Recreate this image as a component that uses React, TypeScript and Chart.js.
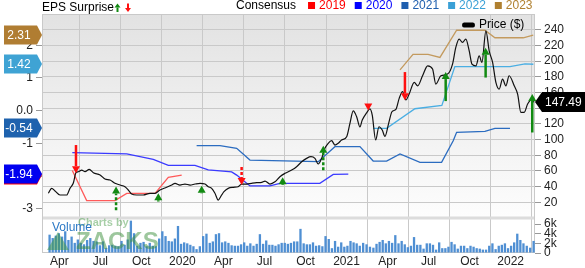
import React, { useEffect, useRef } from "react";
import { Chart, registerables } from "chart.js";

Chart.register(...registerables);

const FONT = "'Liberation Sans', Arial, Helvetica, sans-serif";
const GRID = "#c9c9c9";

// x axis: months since Jan 2019 (3 = Apr 2019)
const X_MIN = 1.735;
const X_MAX = 37.78;
const quarterTicks = [3, 6, 9, 12, 15, 18, 21, 24, 27, 30, 33, 36];
const quarterLabels = ["Apr", "Jul", "Oct", "2020", "Apr", "Jul", "Oct", "2021", "Apr", "Jul", "Oct", "2022"];

const priceTicks = [20, 40, 60, 80, 100, 120, 140, 160, 180, 200, 220, 240];
const epsTicks = [-3, -2, -1, 0, 1, 2];
const volumeTicks = [0, 2, 4, 6];

// price line (months since Jan 2019, $)
const priceMonths = [
  2.2, 2.44, 2.69, 3.05, 3.54, 3.78, 4.02, 4.22, 4.39, 4.64,
  4.88, 5.19, 5.49, 5.98, 6.34, 6.71, 7.07, 7.44, 7.8, 8.04,
  8.29, 8.66, 9.14, 9.63, 10.0, 10.36, 10.85, 11.22, 11.46, 11.82,
  12.19, 12.56, 12.92, 13.29, 13.65, 13.89, 14.14, 14.38, 14.62, 14.87,
  15.04, 15.35, 15.72, 16.08, 16.33, 16.7, 17.06, 17.43, 17.8, 18.04,
  18.4, 18.77, 19.13, 19.5, 19.99, 20.35, 20.72, 21.08, 21.4, 21.69,
  21.93, 22.18, 22.42, 22.66, 22.91, 23.15, 23.39, 23.64, 24.01, 24.25,
  24.49, 24.74, 24.98, 25.15, 25.47, 25.71, 25.88, 26.13, 26.37, 26.61,
  26.81, 27.08, 27.32, 27.61, 27.85, 28.1, 28.34, 28.58, 28.95, 29.2,
  29.56, 29.93, 30.29, 30.53, 30.9, 31.39, 31.75, 31.99, 32.23, 32.48,
  32.72, 32.97, 33.17, 33.46, 33.7, 33.9, 34.19, 34.43, 34.68, 34.92,
  35.16, 35.41, 35.65, 35.89, 36.26, 36.51, 36.75, 36.99, 37.24, 37.48,
  37.72,
];
const prices = [
  31.5, 37.8, 34.4, 29.3, 29.3, 37.8, 44.2, 57.7, 59.0, 61.1,
  59.0, 62.0, 57.7, 54.8, 49.7, 48.4, 44.2, 42.0, 39.9, 35.7,
  30.6, 29.3, 29.3, 31.5, 31.5, 35.7, 39.1, 42.0, 44.2, 42.0,
  43.3, 42.0, 43.3, 44.2, 43.3, 39.9, 37.8, 31.5, 22.9, 29.3,
  33.5, 37.8, 39.1, 39.9, 43.3, 43.3, 44.2, 45.0, 45.5, 47.1,
  43.3, 46.2, 52.6, 56.9, 61.1, 65.4, 71.7, 76.0, 78.1, 76.0,
  68.8, 76.0, 88.8, 95.2, 98.5, 93.0, 95.2, 99.4, 103.6, 120.6,
  136.5, 129.0, 116.0, 124.8, 134.1, 139.0, 131.2, 99.5, 116.3, 112.1,
  104.0, 120.6, 135.4, 138.5, 152.5, 161.0, 150.5, 158.0, 172.9, 168.5,
  181.3, 194.0, 189.8, 170.7, 181.3, 183.4, 196.2, 217.5, 228.0, 223.8,
  228.0, 213.1, 196.2, 194.0, 206.8, 198.3, 238.6, 213.1, 198.3, 172.9,
  164.3, 177.0, 168.5, 181.3, 168.5, 158.0, 134.6, 134.6, 145.2, 150.3,
  147.49,
];

// consensus EPS lines per fiscal year
const c2019Months = [3.95, 5.0, 7.07, 7.93, 10.0, 10.97, 11.95];
const c2019 = [-1.83, -2.75, -2.75, -2.53, -2.53, -2.04, -1.97];
const c2020Months = [3.95, 7.93, 9.87, 10.97, 12.92, 13.89, 15.6, 15.97, 16.94, 18.4, 19.13, 22.05, 23.03, 24.13];
const c2020 = [-1.28, -1.32, -1.49, -1.67, -1.67, -1.81, -1.87, -1.97, -2.3, -2.3, -2.22, -2.22, -1.95, -1.94];
const c2021Months = [13.04, 14.75, 15.97, 16.94, 21.93, 23.15, 24.98, 25.95, 26.93, 27.91, 29.37, 30.95, 31.8, 32.05, 34.12, 34.85, 35.95];
const c2021 = [-1.07, -1.07, -1.15, -1.51, -1.56, -1.1, -1.1, -1.54, -1.54, -1.32, -1.58, -1.58, -0.92, -0.66, -0.63, -0.54, -0.54];
const c2022Months = [25.95, 26.93, 29.0, 30.97, 31.92, 35.95, 37.05, 37.66];
const c2022 = [-0.54, -0.54, 0.06, 0.16, 1.35, 1.35, 1.43, 1.42];
const c2023Months = [27.91, 28.86, 29.96, 30.83, 32.05, 34.12, 34.85, 36.92, 37.65];
const c2023 = [1.25, 1.72, 1.72, 1.63, 2.46, 2.46, 2.23, 2.23, 2.31];

const consensusYears = ["2019", "2020", "2021", "2022", "2023"];
const consensusTextColors = ["#ff0000", "#0000ff", "#1f5fae", "#3aa0d6", "#b08030"];
const consensusLineColors = ["#ff5a5a", "#3a3aff", "#2b6cc0", "#4aaee3", "#c39a5e"];
const consensusBadgeColors = ["#ff0000", "#0000f0", "#1e62ae", "#3fa3d4", "#b07d32"];

// weekly volume (thousands), weeks starting 2019-03-10
const volumeStart = [2019, 2, 10];
const volumes = [
  3.8, 3.1, 3.6, 4.1, 3.4, 4.5, 2.7, 3.4, 2.1, 2.8,
  2.1, 1.8, 2.7, 3.1, 2.5, 2.4, 1.6, 2.4, 1.0, 1.6,
  1.7, 1.5, 1.4, 2.5, 1.7, 2.8, 6.7, 4.1, 1.5, 2.1,
  2.3, 1.4, 2.1, 1.5, 1.4, 3.0, 4.5, 3.5, 2.5, 2.4,
  3.0, 5.6, 1.9, 2.2, 2.0, 1.7, 1.4, 0.8, 1.4, 3.5,
  4.0, 2.1, 2.4, 3.9, 4.1, 2.2, 2.4, 2.1, 1.6, 1.5,
  1.5, 1.8, 2.2, 1.5, 2.0, 1.5, 1.9, 3.9, 1.9, 2.6,
  1.7, 1.7, 1.5, 1.8, 2.1, 2.1, 1.9, 2.1, 2.4, 2.4,
  5.0, 2.0, 1.8, 1.8, 2.2, 1.5, 1.6, 1.4, 3.5, 2.9,
  1.0, 2.5, 1.3, 2.2, 1.3, 1.5, 2.5, 2.2, 2.0, 1.5,
  2.1, 1.8, 1.3, 1.1, 1.9, 2.3, 2.7, 2.0, 2.5, 2.1,
  3.7, 2.0, 2.5, 1.8, 1.2, 1.5, 3.3, 1.7, 1.7, 0.9,
  2.0, 2.0, 1.7, 0.7, 2.2, 1.0, 1.0, 1.3, 2.3, 1.8,
  0.9, 1.5, 1.5, 1.0, 1.5, 1.3, 1.0, 0.9, 0.7, 0.7,
  1.5, 2.0, 0.8, 1.5, 1.7, 2.0, 1.0, 1.5, 2.2, 4.0,
  2.7, 2.0, 1.5, 1.1, 2.5,
];

// EPS surprise arrows (month, price from, price to)
const arrowMonths = [4.22, 7.15, 10.24, 13.41, 16.33, 19.33, 22.3, 25.59, 28.27, 31.25, 34.17, 37.58];
const arrowFrom = [93, 10, 21, 31.5, 65, 42, 61, 144, 186, 149, 179, 109];
const arrowTo = [57, 40, 31.5, 41, 42, 52, 92, 137, 150, 186, 217, 158];
const arrowDashed = [false, true, true, false, true, false, true, false, false, false, false, false];

const lastPrice = 147.49;

const EPS_MIN = -4.352;
const EPS_MAX = 2.957;

function toMonths(d: Date): number {
  const y = d.getUTCFullYear();
  const m = d.getUTCMonth();
  const dim = new Date(Date.UTC(y, m + 1, 0)).getUTCDate();
  return (y - 2019) * 12 + m + (d.getUTCDate() - 1) / dim;
}
const volumeMonths = volumes.map((_, i) =>
  toMonths(new Date(Date.UTC(volumeStart[0], volumeStart[1], volumeStart[2] + 7 * i)))
);

const xy = (xs: number[], ys: number[]) => xs.map((x, i) => ({ x, y: ys[i] }));

function drawArrow(ctx: CanvasRenderingContext2D, x: number, yFrom: number, yTo: number, color: string, dashed: boolean, shaft = 2.5, half = 4, head = 7) {
  const dir = yTo < yFrom ? -1 : 1;
  const shaftEnd = yTo - dir * head;
  ctx.save();
  ctx.strokeStyle = color;
  ctx.fillStyle = color;
  ctx.lineWidth = shaft;
  ctx.setLineDash(dashed ? [3, 2] : []);
  if ((shaftEnd - yFrom) * dir > 0) {
    ctx.beginPath();
    ctx.moveTo(x, yFrom);
    ctx.lineTo(x, shaftEnd);
    ctx.stroke();
  }
  ctx.setLineDash([]);
  ctx.beginPath();
  ctx.moveTo(x, yTo);
  ctx.lineTo(x - half, shaftEnd);
  ctx.lineTo(x + half, shaftEnd);
  ctx.closePath();
  ctx.fill();
  ctx.restore();
}

const consensusSeries = [
  [c2019Months, c2019],
  [c2020Months, c2020],
  [c2021Months, c2021],
  [c2022Months, c2022],
  [c2023Months, c2023],
];

const bgPlugin = {
  id: "zbg",
  beforeDraw(chart: any) {
    const { ctx, chartArea } = chart;
    const p = chart.scales.price;
    ctx.save();
    const g = ctx.createLinearGradient(0, p.top, 0, p.bottom);
    g.addColorStop(0, "#e2e2e2");
    g.addColorStop(1, "#fdfdfd");
    ctx.fillStyle = g;
    ctx.fillRect(chartArea.left, p.top, chartArea.right - chartArea.left, p.bottom - p.top);
    ctx.restore();
  },
  beforeDatasetsDraw(chart: any) {
    const { ctx, chartArea } = chart;
    const p = chart.scales.price;
    ctx.save();
    ctx.fillStyle = "#dcdcdc";
    ctx.fillRect(chartArea.left, p.bottom - 1.5, chartArea.right - chartArea.left, 3);
    ctx.strokeStyle = GRID;
    ctx.lineWidth = 1;
    ctx.strokeRect(chartArea.left + 0.5, chartArea.top + 0.5, chartArea.right - chartArea.left - 1, chartArea.bottom - chartArea.top - 1);
    ctx.restore();
  },
};

const overlayPlugin = {
  id: "zoverlay",
  afterDatasetsDraw(chart: any) {
    const { ctx } = chart;
    const xs = chart.scales.x;
    const ps = chart.scales.price;
    arrowMonths.forEach((m, i) => {
      const x = xs.getPixelForValue(m);
      const y0 = ps.getPixelForValue(arrowFrom[i]);
      const y1 = ps.getPixelForValue(arrowTo[i]);
      const color = arrowTo[i] > arrowFrom[i] ? "#128a12" : "#ff1010";
      drawArrow(ctx, x, y0, y1, color, arrowDashed[i]);
    });
    // watermark + volume label
    ctx.save();
    ctx.globalAlpha = 0.5;
    ctx.fillStyle = "#3f9a3f";
    ctx.beginPath();
    ctx.moveTo(47, 250);
    ctx.lineTo(58, 232);
    ctx.lineTo(69, 250);
    ctx.closePath();
    ctx.fill();
    ctx.font = `bold 11px ${FONT}`;
    ctx.textBaseline = "middle";
    ctx.fillStyle = "#4f9f4f";
    ctx.fillText("Charts by", 78, 222.5);
    ctx.font = `bold 24px ${FONT}`;
    ctx.fillStyle = "#3c8f3c";
    ctx.fillText("ZACKS", 76, 242);
    ctx.restore();
    ctx.save();
    ctx.font = `12px ${FONT}`;
    ctx.textBaseline = "middle";
    ctx.fillStyle = "#2b78c5";
    ctx.fillText("Volume", 52, 228);
    ctx.restore();
  },
  afterDraw(chart: any) {
    const { ctx } = chart;
    const es = chart.scales.eps;
    const ps = chart.scales.price;
    ctx.save();
    ctx.textBaseline = "middle";
    // left badges (latest consensus)
    consensusSeries.forEach(([, vals], i) => {
      const v = vals[vals.length - 1];
      const y = Math.round(es.getPixelForValue(v));
      const h = 19;
      ctx.fillStyle = consensusBadgeColors[i];
      ctx.beginPath();
      ctx.moveTo(4, y - h / 2);
      ctx.lineTo(37, y - h / 2);
      ctx.lineTo(42, y);
      ctx.lineTo(37, y + h / 2);
      ctx.lineTo(4, y + h / 2);
      ctx.closePath();
      ctx.fill();
      ctx.fillStyle = "#ffffff";
      ctx.font = `12px ${FONT}`;
      ctx.textAlign = "center";
      ctx.fillText(v.toFixed(2), 19, y + 0.5);
    });
    // right badge
    const py = Math.round(ps.getPixelForValue(lastPrice));
    ctx.fillStyle = "#000";
    ctx.beginPath();
    ctx.moveTo(535, py);
    ctx.lineTo(542, py - 10);
    ctx.lineTo(585, py - 10);
    ctx.lineTo(585, py + 10);
    ctx.lineTo(542, py + 10);
    ctx.closePath();
    ctx.fill();
    ctx.fillStyle = "#fff";
    ctx.textAlign = "left";
    ctx.fillText(lastPrice.toFixed(2), 545, py + 0.5);

    // top legends
    ctx.font = `12px ${FONT}`;
    ctx.fillStyle = "#000";
    ctx.textAlign = "left";
    ctx.fillText("EPS Surprise", 42, 8);
    drawArrow(ctx, 117.5, 12, 3.5, "#128a12", false, 2, 3, 4);
    drawArrow(ctx, 128, 3.5, 12, "#ff1010", false, 2, 3, 4);

    ctx.fillStyle = "#000";
    ctx.fillText("Consensus", 236, 5.5);
    let x = 236 + ctx.measureText("Consensus").width + 12;
    consensusYears.forEach((yr, i) => {
      ctx.fillStyle = consensusTextColors[i];
      ctx.fillRect(x, 2, 7, 7);
      ctx.fillText(yr, x + 11, 5.5);
      x = x + 11 + ctx.measureText(yr).width + 9;
    });

    ctx.fillStyle = "#000";
    ctx.beginPath();
    ctx.moveTo(464, 22.5);
    ctx.lineTo(473, 22.5);
    ctx.quadraticCurveTo(475, 22.5, 475, 25);
    ctx.quadraticCurveTo(475, 27.5, 473, 27.5);
    ctx.lineTo(464, 27.5);
    ctx.quadraticCurveTo(462, 27.5, 462, 25);
    ctx.quadraticCurveTo(462, 22.5, 464, 22.5);
    ctx.fill();
    ctx.fillText("Price ($)", 479, 25);
    ctx.restore();
  },
};

const tickFont = { family: FONT, size: 12 };

export default function App() {
  const ref = useRef<HTMLCanvasElement>(null);
  useEffect(() => {
    document.body.style.margin = "0";
    const canvas = ref.current;
    if (!canvas) return;
    const datasets: any[] = [
      {
        type: "line",
        label: "Price",
        data: xy(priceMonths, prices),
        yAxisID: "price",
        borderColor: "#111111",
        borderWidth: 1.2,
        pointRadius: 0,
        cubicInterpolationMode: "monotone",
        order: 0,
      },
      ...consensusSeries.map(([ms, vs], i) => ({
        type: "line",
        label: consensusYears[i],
        data: xy(ms, vs),
        yAxisID: "eps",
        borderColor: consensusLineColors[i],
        borderWidth: 1.3,
        pointRadius: 0,
        tension: 0,
        order: 1,
      })),
      {
        type: "bar",
        label: "Volume",
        data: xy(volumeMonths, volumes),
        yAxisID: "volume",
        backgroundColor: "#4f8fd3",
        categoryPercentage: 1,
        barPercentage: 0.75,
        order: 3,
      },
    ];
    const chart = new Chart(canvas, {
      type: "line",
      data: { datasets },
      options: {
        responsive: false,
        animation: false,
        devicePixelRatio: 1,
        layout: { padding: { top: 14, left: 0, right: 0, bottom: 0 } },
        plugins: {
          legend: { display: false },
          tooltip: { enabled: false },
          title: { display: false },
        },
        scales: {
          x: {
            type: "linear",
            min: X_MIN,
            max: X_MAX,
            offset: false,
            afterBuildTicks: (s: any) => {
              s.ticks = quarterTicks.map((v) => ({ value: v }));
            },
            afterFit: (s: any) => {
              s.height = 15;
            },
            grid: { color: GRID, drawTicks: false },
            border: { display: false },
            ticks: {
              autoSkip: false,
              maxRotation: 0,
              padding: 1,
              font: tickFont,
              color: "#222",
              callback: (_v: any, i: number) => quarterLabels[i],
            },
          },
          eps: {
            type: "linear",
            position: "left",
            min: EPS_MIN,
            max: EPS_MAX,
            afterBuildTicks: (s: any) => {
              s.ticks = epsTicks.map((v) => ({ value: v }));
            },
            afterFit: (s: any) => {
              s.width = 42;
            },
            grid: { drawOnChartArea: false, tickLength: 6, tickColor: "#999" },
            border: { display: false },
            ticks: {
              autoSkip: false,
              padding: 3,
              font: tickFont,
              color: "#222",
              callback: (v: any) => (v === 0 ? "0.0" : String(v)),
            },
          },
          price: {
            type: "linear",
            position: "right",
            stack: "right",
            stackWeight: 204,
            min: 0,
            max: 260,
            afterBuildTicks: (s: any) => {
              s.ticks = priceTicks.map((v) => ({ value: v }));
            },
            afterFit: (s: any) => {
              s.width = 50;
            },
            grid: { color: GRID, tickLength: 6, tickColor: "#999" },
            border: { display: false },
            ticks: { autoSkip: false, padding: 3, font: tickFont, color: "#222" },
          },
          volume: {
            type: "linear",
            position: "right",
            stack: "right",
            stackWeight: 35,
            min: 0,
            max: 7.25,
            afterBuildTicks: (s: any) => {
              s.ticks = volumeTicks.map((v) => ({ value: v }));
            },
            afterFit: (s: any) => {
              s.width = 50;
            },
            grid: { drawOnChartArea: false, tickLength: 6, tickColor: "#999" },
            border: { display: false },
            ticks: {
              autoSkip: false,
              padding: 3,
              font: tickFont,
              color: "#222",
              callback: (v: any) => (v === 0 ? "0" : `${v}k`),
            },
          },
        },
      } as any,
      plugins: [bgPlugin, overlayPlugin],
    });
    return () => chart.destroy();
  }, []);
  return (
    <div style={{ width: 585, height: 268 }}>
      <canvas ref={ref} width={585} height={268} style={{ display: "block" }} />
    </div>
  );
}
